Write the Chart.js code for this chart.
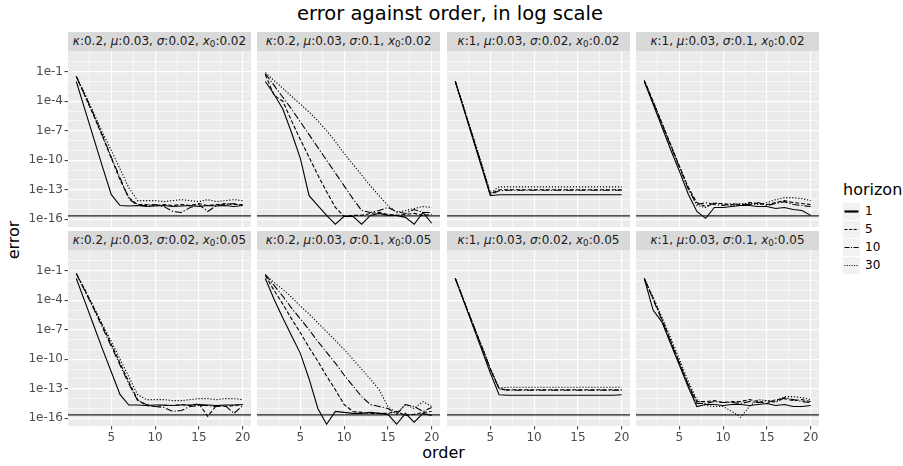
<!DOCTYPE html>
<html>
<head>
<meta charset="utf-8">
<script src="https://cdn.jsdelivr.net/npm/chart.js@4.4.1/dist/chart.umd.min.js"></script>
<style>
  body { margin: 0; background: #fff; font-family: "DejaVu Sans", sans-serif; }
  #wrap { position: relative; width: 903px; height: 466px; overflow: hidden; }
  .strip { position: absolute; background: #D9D9D9; color: #1A1A1A; font-size: 12px;
           text-align: center; line-height: 19px; height: 19px; white-space: nowrap; }
  .strip sub { font-size: 8.7px; line-height: 0; vertical-align: -2px; }
  canvas { position: absolute; }
  .txt { position: absolute; white-space: nowrap; color: #000; }
  #title { top: 2px; left: 0; width: 900px; text-align: center; font-size: 19.5px; }
  #xlab { top: 443px; left: 68px; width: 751px; text-align: center; font-size: 16px; }
  #ylab { left: 13px; top: 240px; font-size: 16px; transform: translate(-50%, -50%) rotate(-90deg); }
  #legend { position: absolute; left: 843px; top: 180px; }
  #legend .ttl { font-size: 16px; height: 22px; }
  #legend .row { display: flex; align-items: center; height: 18px; }
  #legend .key { width: 17px; height: 17px; background: #F2F2F2; }
  #legend .lab { font-size: 12px; margin-left: 5px; color: #000; }
</style>
</head>
<body>
<div id="wrap">
  <div id="title" class="txt">error against order, in log scale</div>
  <div id="xlab" class="txt">order</div>
  <div id="ylab" class="txt">error</div>
  <div id="legend"></div>
</div>
<script>
// facet parameters
const KAPPA = ['0.2', '0.2', '1', '1', '0.2', '0.2', '1', '1'];
const MU    = ['0.03', '0.03', '0.03', '0.03', '0.03', '0.03', '0.03', '0.03'];
const SIGMA = ['0.02', '0.1', '0.02', '0.1', '0.02', '0.1', '0.02', '0.1'];
const X0    = ['0.02', '0.02', '0.02', '0.02', '0.05', '0.05', '0.05', '0.05'];

const ORDERS = [1, 2, 3, 4, 5, 6, 7, 8, 9, 10, 11, 12, 13, 14, 15, 16, 17, 18, 19, 20];
const HORIZONS = [1, 5, 10, 30];

// log10(error), one row per facet
const logErrH1 = [
  [-2.0, -4.9, -7.8, -10.7, -13.5, -14.6, -14.65, -14.6, -14.7, -14.65, -14.6, -14.7, -14.65, -14.6, -14.7, -14.6, -14.65, -14.6, -14.7, -14.6],
  [-2.0, -3.3, -4.8, -7.2, -9.8, -13.6, -14.6, -15.6, -16.5, -15.7, -15.7, -16.5, -15.6, -15.4, -15.6, -15.6, -15.8, -16.5, -15.3, -16.4],
  [-2.0, -4.9, -7.8, -10.7, -13.6, -13.5, -13.5, -13.5, -13.5, -13.5, -13.5, -13.5, -13.5, -13.5, -13.5, -13.5, -13.5, -13.5, -13.5, -13.5],
  [-2.0, -4.3, -6.6, -8.9, -11.1, -13.4, -15.2, -15.9, -14.8, -14.8, -14.7, -14.6, -14.6, -14.7, -14.7, -14.9, -14.8, -15.0, -15.1, -15.6],
  [-1.8, -4.2, -6.6, -9.0, -11.3, -13.6, -14.65, -14.65, -14.7, -14.65, -14.65, -14.7, -14.65, -14.65, -14.6, -14.65, -14.7, -14.65, -14.65, -14.6],
  [-1.8, -3.9, -5.8, -7.6, -9.4, -12.0, -15.0, -16.6, -15.3, -15.4, -15.5, -15.5, -15.4, -15.5, -15.6, -16.6, -15.5, -16.4, -15.5, -15.7],
  [-1.8, -4.2, -6.6, -9.0, -11.4, -13.6, -13.65, -13.65, -13.65, -13.65, -13.65, -13.65, -13.65, -13.65, -13.65, -13.65, -13.65, -13.65, -13.65, -13.6],
  [-1.8, -5.0, -6.2, -8.4, -10.6, -12.8, -14.8, -14.6, -14.6, -14.7, -14.6, -14.6, -14.7, -14.6, -14.5, -14.7, -14.6, -14.8, -14.8, -14.7]
];
const logErrH5 = [
  [-1.5, -3.5, -5.5, -7.6, -9.8, -12.0, -13.8, -14.5, -14.5, -14.6, -14.5, -14.6, -14.5, -14.6, -14.4, -14.6, -14.5, -14.4, -14.5, -14.5],
  [-1.3, -3.4, -4.0, -6.0, -7.9, -9.7, -11.5, -13.2, -14.8, -15.7, -15.6, -15.6, -15.4, -15.3, -15.5, -15.6, -15.5, -15.4, -15.6, -15.5],
  [-2.0, -4.8, -7.6, -10.5, -13.4, -13.0, -13.0, -13.0, -13.0, -13.0, -13.0, -13.0, -13.0, -13.0, -13.0, -13.0, -13.0, -13.0, -13.0, -13.0],
  [-1.9, -4.0, -6.2, -8.4, -10.6, -12.7, -14.3, -14.7, -14.4, -14.4, -14.5, -14.6, -14.3, -14.4, -14.5, -14.3, -14.1, -14.3, -14.4, -14.5],
  [-1.3, -3.0, -4.8, -6.6, -8.5, -10.4, -12.3, -14.1, -14.7, -14.8, -14.7, -14.7, -14.6, -14.7, -14.5, -15.8, -14.7, -14.8, -14.7, -14.6],
  [-1.5, -3.0, -4.4, -5.9, -7.3, -8.8, -10.2, -11.7, -13.1, -14.6, -15.3, -15.4, -15.5, -15.5, -15.5, -15.3, -15.7, -15.6, -15.4, -15.3],
  [-1.8, -4.1, -6.4, -8.7, -11.0, -13.0, -13.1, -13.1, -13.1, -13.1, -13.1, -13.1, -13.1, -13.1, -13.1, -13.1, -13.1, -13.1, -13.1, -13.1],
  [-1.8, -3.8, -5.9, -8.1, -10.3, -12.5, -14.3, -14.3, -14.2, -14.4, -14.3, -14.3, -14.1, -14.3, -14.5, -14.1, -14.0, -14.2, -14.1, -14.3]
];
const logErrH10 = [
  [-1.5, -3.4, -5.4, -7.5, -9.7, -11.8, -13.9, -14.6, -14.6, -14.5, -14.7, -15.2, -15.3, -14.8, -14.5, -15.2, -14.6, -14.5, -14.4, -14.6],
  [-1.2, -2.4, -3.6, -4.8, -6.1, -7.4, -8.7, -10.0, -11.3, -12.6, -13.9, -15.1, -15.3, -15.1, -14.8, -15.2, -15.4, -15.0, -15.3, -15.3],
  [-2.0, -4.8, -7.7, -10.5, -13.5, -13.1, -13.05, -13.05, -13.05, -13.05, -13.05, -13.05, -13.05, -13.05, -13.05, -13.05, -13.05, -13.05, -13.05, -13.05],
  [-2.0, -4.1, -6.3, -8.5, -10.7, -12.9, -14.5, -14.3, -14.5, -14.6, -14.4, -14.5, -14.5, -14.3, -14.6, -14.4, -14.2, -14.5, -14.6, -14.7],
  [-1.3, -3.1, -4.9, -6.8, -8.7, -10.6, -12.5, -14.2, -14.6, -14.8, -14.9, -15.3, -15.2, -14.8, -14.7, -14.7, -14.8, -14.7, -15.5, -14.7],
  [-1.4, -2.5, -3.6, -4.8, -5.9, -7.0, -8.2, -9.3, -10.4, -11.6, -12.7, -13.8, -14.6, -14.8, -15.0, -15.6, -14.6, -14.8, -15.3, -14.9],
  [-1.8, -4.1, -6.4, -8.7, -11.0, -13.0, -13.15, -13.15, -13.15, -13.15, -13.15, -13.15, -13.15, -13.15, -13.15, -13.15, -13.15, -13.15, -13.15, -13.15],
  [-1.8, -3.9, -6.0, -8.2, -10.4, -12.6, -14.5, -14.5, -14.3, -14.4, -14.4, -14.5, -14.3, -14.4, -14.2, -14.4, -13.9, -14.1, -14.3, -14.4]
];
const logErrH30 = [
  [-1.5, -3.3, -5.2, -7.2, -9.0, -10.9, -12.8, -14.1, -14.1, -14.1, -14.2, -14.1, -14.0, -14.1, -14.2, -14.0, -14.2, -14.1, -14.0, -14.1],
  [-1.1, -1.9, -2.7, -3.5, -4.3, -5.1, -6.0, -7.0, -8.1, -9.3, -10.4, -11.5, -12.6, -13.6, -14.6, -15.3, -15.1, -14.9, -14.7, -14.8],
  [-2.0, -4.7, -7.5, -10.3, -13.3, -12.7, -12.7, -12.7, -12.7, -12.7, -12.7, -12.7, -12.7, -12.7, -12.7, -12.7, -12.7, -12.7, -12.7, -12.7],
  [-1.9, -4.0, -6.2, -8.4, -10.6, -12.8, -14.6, -14.8, -14.3, -14.5, -14.6, -14.4, -14.4, -14.5, -14.3, -14.0, -13.8, -13.8, -13.9, -14.1],
  [-1.3, -3.0, -4.7, -6.5, -8.2, -10.0, -11.8, -13.6, -14.1, -14.1, -14.1, -14.2, -14.2, -14.1, -14.0, -14.0, -14.1, -14.0, -14.0, -14.1],
  [-1.4, -2.2, -2.9, -3.7, -4.6, -5.4, -6.3, -7.2, -8.1, -9.0, -10.0, -11.0, -12.0, -13.1, -14.8, -15.5, -14.6, -15.0, -14.3, -14.8],
  [-1.8, -4.1, -6.4, -8.6, -10.9, -12.9, -12.85, -12.85, -12.85, -12.85, -12.85, -12.85, -12.85, -12.85, -12.85, -12.85, -12.85, -12.85, -12.85, -12.85],
  [-1.8, -3.7, -5.7, -7.8, -10.0, -12.2, -14.1, -14.7, -14.8, -14.8, -15.3, -15.9, -14.8, -14.1, -14.2, -14.3, -13.8, -13.8, -13.9, -14.1]
];
const SERIES = [logErrH1, logErrH5, logErrH10, logErrH30];

const EPS = 2.220446e-16; // horizontal reference line

// axis ticks
const X_MAJOR = [5, 10, 15, 20];
const X_MINOR = [2.5, 7.5, 12.5, 17.5];
const Y_MAJOR = [1e-1, 1e-4, 1e-7, 1e-10, 1e-13, 1e-16];
const Y_LABELS = ['1e-1', '1e-4', '1e-7', '1e-10', '1e-13', '1e-16'];
const Y_MINOR = [1e0, 1e-2, 1e-3, 1e-5, 1e-6, 1e-8, 1e-9, 1e-11, 1e-12, 1e-14, 1e-15];

// layout
const X_MIN = 0.05, X_MAX = 20.95;
const Y_MIN = Math.pow(10, -16.78), Y_MAX = Math.pow(10, 1.10);
const PANEL_LEFT = [68, 257, 447, 636];
const PANEL_TOP = [51, 250];
const PANEL_W = 183, PANEL_H = 176;
const Y_AXIS_W = 40, X_AXIS_H = 20;
const DASHES = [[], [4, 2], [7, 2, 1.2, 2], [1.2, 1.8]];
const FONT = '"DejaVu Sans", sans-serif';

const wrap = document.getElementById('wrap');

function isMajorY(v) {
  return Y_MAJOR.some(m => Math.abs(Math.log10(m) - Math.log10(v)) < 1e-6);
}

// panel background
const panelBg = {
  id: 'panelBg',
  beforeDraw(chart) {
    const a = chart.chartArea, ctx = chart.ctx;
    ctx.save();
    ctx.fillStyle = '#EBEBEB';
    ctx.fillRect(a.left, a.top, a.right - a.left, a.bottom - a.top);
    ctx.restore();
  }
};

function makePanel(i) {
  const row = Math.floor(i / 4), col = i % 4;
  const left = PANEL_LEFT[col] - (col === 0 ? Y_AXIS_W : 0);
  const w = PANEL_W + (col === 0 ? Y_AXIS_W : 0);
  const h = PANEL_H + (row === 1 ? X_AXIS_H : 0);

  // strip
  const strip = document.createElement('div');
  strip.className = 'strip';
  strip.style.left = PANEL_LEFT[col] + 'px';
  strip.style.top = (PANEL_TOP[row] - 19) + 'px';
  strip.style.width = PANEL_W + 'px';
  strip.innerHTML = '<i>κ</i>:' + KAPPA[i] + ', <i>μ</i>:' + MU[i] + ', <i>σ</i>:' + SIGMA[i] +
    ', <i>x</i><sub>0</sub>:' + X0[i];
  wrap.appendChild(strip);

  const cv = document.createElement('canvas');
  cv.width = w; cv.height = h;
  cv.style.left = left + 'px';
  cv.style.top = PANEL_TOP[row] + 'px';
  cv.style.width = w + 'px';
  cv.style.height = h + 'px';
  wrap.appendChild(cv);

  const datasets = HORIZONS.map((hz, k) => ({
    label: String(hz),
    data: ORDERS.map((o, j) => ({ x: o, y: Math.pow(10, SERIES[k][i][j]) })),
    borderColor: '#000',
    borderWidth: 1.1,
    borderDash: DASHES[k],
    pointRadius: 0,
    tension: 0,
    fill: false
  }));
  datasets.push({
    label: 'eps',
    data: [{ x: X_MIN, y: EPS }, { x: X_MAX, y: EPS }],
    borderColor: '#222',
    borderWidth: 1.3,
    pointRadius: 0
  });

  new Chart(cv, {
    type: 'line',
    data: { datasets: datasets },
    plugins: [panelBg],
    options: {
      responsive: false,
      animation: false,
      layout: { padding: 0 },
      plugins: { legend: { display: false }, tooltip: { enabled: false } },
      scales: {
        x: {
          type: 'linear',
          min: X_MIN, max: X_MAX,
          afterBuildTicks: s => { s.ticks = X_MINOR.concat(X_MAJOR).sort((a, b) => a - b).map(v => ({ value: v })); },
          afterFit: s => { s.height = row === 1 ? X_AXIS_H : 0; s.paddingLeft = 0; s.paddingRight = 0; },
          border: { display: false },
          grid: {
            color: '#fff',
            lineWidth: c => (c.tick && X_MAJOR.includes(c.tick.value)) ? 1.2 : 0.6,
            drawTicks: row === 1,
            tickLength: 3.5,
            tickWidth: 1,
            tickColor: c => (c.tick && X_MAJOR.includes(c.tick.value)) ? '#333' : 'rgba(0,0,0,0)'
          },
          ticks: {
            display: row === 1,
            autoSkip: false,
            maxRotation: 0,
            padding: 1,
            color: '#4D4D4D',
            font: { family: FONT, size: 12 },
            callback: v => X_MAJOR.includes(v) ? String(v) : ''
          }
        },
        y: {
          type: 'logarithmic',
          min: Y_MIN, max: Y_MAX,
          afterBuildTicks: s => { s.ticks = Y_MINOR.concat(Y_MAJOR).sort((a, b) => b - a).map(v => ({ value: v })); },
          afterFit: s => { s.width = col === 0 ? Y_AXIS_W : 0; s.paddingTop = 0; s.paddingBottom = 0; },
          border: { display: false },
          grid: {
            color: '#fff',
            lineWidth: c => (c.tick && isMajorY(c.tick.value)) ? 1.2 : 0.6,
            drawTicks: col === 0,
            tickLength: 3.5,
            tickWidth: 1,
            tickColor: c => (c.tick && isMajorY(c.tick.value)) ? '#333' : 'rgba(0,0,0,0)'
          },
          ticks: {
            display: col === 0,
            autoSkip: false,
            padding: 1.5,
            color: '#4D4D4D',
            font: { family: FONT, size: 12 },
            callback: v => {
              const idx = Y_MAJOR.findIndex(m => Math.abs(Math.log10(m) - Math.log10(v)) < 1e-6);
              return idx >= 0 ? Y_LABELS[idx] : '';
            }
          }
        }
      }
    }
  });
}

for (let i = 0; i < 8; i++) makePanel(i);

// legend
const legend = document.getElementById('legend');
let html = '<div class="ttl">horizon</div>';
const svgDash = ['', '3,1.6', '5,1.5,1,1.5', '1,1.4'];
HORIZONS.forEach((hz, k) => {
  const sw = k === 0 ? 2.2 : 1.1;
  html += '<div class="row"><svg class="key" width="17" height="17" style="background:#F2F2F2">' +
    '<line x1="1.5" y1="8.5" x2="15.5" y2="8.5" stroke="#000" stroke-width="' + sw + '"' +
    (svgDash[k] ? ' stroke-dasharray="' + svgDash[k] + '"' : '') + '/></svg>' +
    '<span class="lab">' + hz + '</span></div>';
});
legend.innerHTML = html;
</script>
</body>
</html>
